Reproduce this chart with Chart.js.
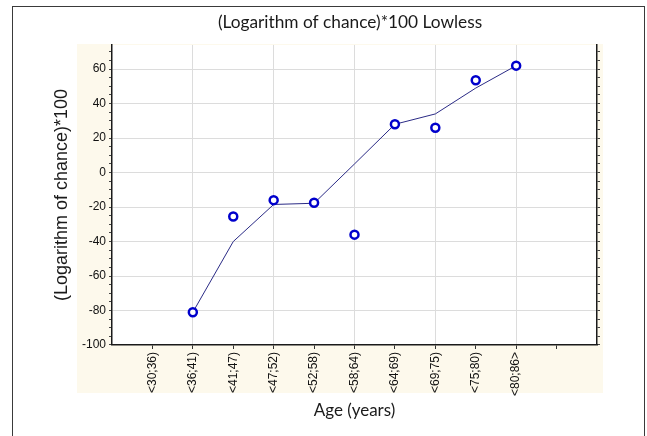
<!DOCTYPE html>
<html>
<head>
<meta charset="utf-8">
<script src="https://cdn.jsdelivr.net/npm/chart.js@4/dist/chart.umd.min.js"></script>
<style>
  html, body { margin: 0; padding: 0; background: #ffffff; }
  #wrap { position: relative; width: 647px; height: 436px; overflow: hidden; }
  #frame { position: absolute; left: 12px; top: 6px; width: 631px; height: 440px; border: 1px solid #3a3a3a; pointer-events: none; }
  canvas { position: absolute; left: 0; top: 0; }
</style>
</head>
<body>
<div id="wrap">
  <canvas id="c" width="647" height="436"></canvas>
  <div id="frame"></div>
</div>
<script>
// ---- data ----
const categories = ['<30;36)', '<36;41)', '<41;47)', '<47;52)', '<52;58)', '<58;64)', '<64;69)', '<69;75)', '<75;80)', '<80;86>'];
const observed   = [null, -81, -25.5, -16, -17.5, -36, 28, 26, 53.5, 62];
const lowess     = [null, -81, -40, -18.5, -17.8, 5, 28, 34, 49, 62];
const yTickValues = [-100, -80, -60, -40, -20, 0, 20, 40, 60];

const titleText = '(Logarithm of chance)*100 Lowless';
const xTitle = 'Age (years)';
const yTitle = '(Logarithm of chance)*100';

const toPoints = arr => arr.map((v, i) => (v === null ? null : { x: i + 1, y: v })).filter(p => p);

const bgPlugin = {
  id: 'bgPanel',
  beforeDraw(chart) {
    const { ctx, chartArea: a } = chart;
    ctx.save();
    ctx.fillStyle = '#fdf9ec';
    ctx.fillRect(a.left - 35, a.top - 1, (a.right - a.left) + 41, (a.bottom - a.top) + 49);
    ctx.fillStyle = '#ffffff';
    ctx.fillRect(a.left, a.top, a.right - a.left, a.bottom - a.top);
    ctx.restore();
  }
};

new Chart(document.getElementById('c'), {
  type: 'scatter',
  data: {
    datasets: [
      {
        label: 'Observed',
        data: toPoints(observed),
        showLine: false,
        pointStyle: 'circle',
        pointRadius: 4,
        pointBorderWidth: 2.5,
        pointBorderColor: '#0000cc',
        pointBackgroundColor: '#ffffff',
        order: 0
      },
      {
        label: 'Lowess',
        data: toPoints(lowess),
        showLine: true,
        borderColor: '#2b2b86',
        borderWidth: 1,
        pointRadius: 0,
        tension: 0,
        order: 1
      }
    ]
  },
  options: {
    responsive: false,
    animation: false,
    layout: { padding: { left: 53, right: 0, top: 0, bottom: 0 } },
    plugins: {
      legend: { display: false },
      tooltip: { enabled: false },
      title: {
        display: true,
        text: titleText,
        color: '#1a1a1a',
        font: { family: 'Lato, "Open Sans", sans-serif', size: 17.3, weight: 'normal', lineHeight: 1.2 },
        padding: { top: 12, bottom: 12.2 }
      }
    },
    scales: {
      x: {
        type: 'linear',
        min: 0,
        max: 12,
        afterFit(scale) { scale.height = 91; },
        afterBuildTicks(scale) {
          scale.ticks = [];
          for (let i = 0; i <= 12; i++) scale.ticks.push({ value: i });
        },
        ticks: {
          autoSkip: false,
          minRotation: 90,
          maxRotation: 90,
          padding: 3,
          color: '#111',
          font: { family: '"Liberation Sans", Arial, sans-serif', size: 12 },
          callback: (v) => (v >= 1 && v <= categories.length ? categories[v - 1] : '')
        },
        grid: {
          color: (c) => {
            const v = c.tick && c.tick.value;
            return (v !== undefined && v % 2 === 0 && v > 0 && v < 12) ? '#dcdcdc' : 'rgba(0,0,0,0)';
          },
          tickColor: (c) => {
            const v = c.tick && c.tick.value;
            return (v > 0 && v < 12) ? '#333' : 'rgba(0,0,0,0)';
          },
          tickLength: 4,
          lineWidth: 1
        },
        border: { display: true, color: '#1a1a1a', width: 1.5 },
        title: {
          display: true,
          text: xTitle,
          color: '#1a1a1a',
          font: { family: 'Lato, "Open Sans", sans-serif', size: 17, lineHeight: 1.2 },
          padding: { top: 0, bottom: 15 }
        }
      },
      y: {
        type: 'linear',
        position: 'left',
        min: -100,
        max: 74,
        afterFit(scale) { scale.width = 59; },
        afterBuildTicks(scale) {
          const t = [];
          for (let v = -100; v <= 74; v += 5) t.push({ value: v });
          scale.ticks = t;
        },
        ticks: {
          autoSkip: false,
          padding: 3,
          color: '#111',
          font: { family: '"Liberation Sans", Arial, sans-serif', size: 12 },
          callback: (v) => (yTickValues.includes(v) ? String(v) : '')
        },
        grid: {
          color: (c) => {
            const v = c.tick && c.tick.value;
            return (v !== undefined && v % 20 === 0 && v > -100) ? '#dcdcdc' : 'rgba(0,0,0,0)';
          },
          tickColor: '#444',
          tickLength: 3,
          lineWidth: 1
        },
        border: { display: true, color: '#1a1a1a', width: 1.5 },
        title: {
          display: true,
          text: yTitle,
          color: '#1a1a1a',
          font: { family: '"Liberation Sans", Arial, sans-serif', size: 18, lineHeight: 1.2 },
          padding: { top: -1.8, bottom: 0 }
        }
      },
      y2: {
        type: 'linear',
        position: 'right',
        min: -100,
        max: 74,
        afterFit(scale) { scale.width = 50; },
        afterBuildTicks(scale) {
          const t = [];
          for (let v = -100; v <= 74; v += 5) t.push({ value: v });
          scale.ticks = t;
        },
        ticks: { display: false },
        grid: { drawOnChartArea: false, tickColor: '#444', tickLength: 3 },
        border: { display: true, color: '#1a1a1a', width: 1.5 }
      }
    }
  },
  plugins: [bgPlugin]
});
</script>
</body>
</html>
